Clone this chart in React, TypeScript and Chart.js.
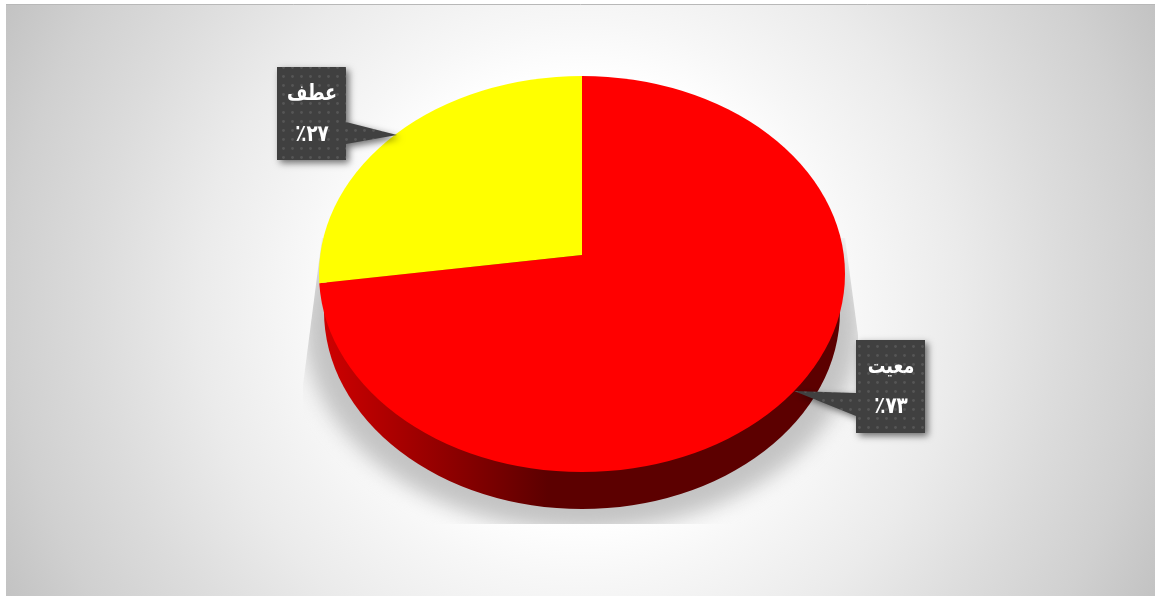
import React, { useEffect, useRef } from "react";
import { Chart, registerables } from "chart.js";

Chart.register(...registerables);

const categories = ["معیت", "عطف"];
const shares = [73, 27];
const sliceColors = ["#ff0000", "#ffff00"];

const persianDigits = "۰۱۲۳۴۵۶۷۸۹";
const toPersian = (n: number) =>
  String(n).replace(/\d/g, (d) => persianDigits[Number(d)]);

// Tilted disc geometry
const TOP = { cx: 582, cy: 274, rx: 263, ry: 198 };
const BASE = { cx: 582, cy: 311, rx: 258, ry: 198 };
const APEX = { x: 582, y: 255 };
const SLICE_RX = 295;
const SLICE_RY = 250;

// Callout boxes, one per category
const CALLOUTS = [
  { x: 856, y: 340, w: 69, h: 93, tip: [794, 391], base: [393, 416], tx: 891, ty1: 367, ty2: 407 },
  { x: 277, y: 67, w: 69, h: 93, tip: [397, 135], base: [122, 144], tx: 312, ty1: 94, ty2: 135 },
];

function dotPattern(ctx: CanvasRenderingContext2D) {
  const c = document.createElement("canvas");
  c.width = 9;
  c.height = 9;
  const p = c.getContext("2d")!;
  p.fillStyle = "#404040";
  p.fillRect(0, 0, 9, 9);
  p.fillStyle = "#565656";
  p.beginPath();
  p.arc(4.5, 4.5, 1.4, 0, Math.PI * 2);
  p.fill();
  return ctx.createPattern(c, "repeat")!;
}

function drawSquat(ctx: CanvasRenderingContext2D, text: string, x: number, y: number, font: string, squeeze: number) {
  ctx.save();
  ctx.translate(x, y);
  ctx.scale(squeeze, 1);
  ctx.font = font;
  ctx.fillText(text, 0, 0);
  ctx.restore();
}

const scenePlugin = {
  id: "scene",
  beforeDraw(chart: any) {
    const { ctx, width, height } = chart;
    ctx.save();
    ctx.fillStyle = "#ffffff";
    ctx.fillRect(0, 0, width, height);
    // Backdrop with a soft light in the middle
    ctx.beginPath();
    ctx.rect(6, 4, width - 6, height - 4);
    ctx.clip();
    const g = ctx.createRadialGradient(580, 300, 0, 580, 300, 650);
    g.addColorStop(0, "#ffffff");
    g.addColorStop(0.34, "#ffffff");
    g.addColorStop(0.43, "#f7f7f7");
    g.addColorStop(0.585, "#ebebeb");
    g.addColorStop(0.74, "#dcdcdc");
    g.addColorStop(0.877, "#d0d0d0");
    g.addColorStop(1, "#c2c2c2");
    ctx.fillStyle = g;
    ctx.fillRect(0, 0, width, height);
    ctx.restore();

    ctx.save();
    ctx.strokeStyle = "#b8b8b8";
    ctx.lineWidth = 1;
    ctx.beginPath();
    ctx.moveTo(6, 4.5);
    ctx.lineTo(width, 4.5);
    ctx.stroke();
    ctx.restore();
  },
  beforeDatasetsDraw(chart: any) {
    const { ctx } = chart;
    // Cast shadow, cropped to its own region
    ctx.save();
    ctx.beginPath();
    ctx.moveTo(322, 238);
    ctx.lineTo(303, 385);
    ctx.lineTo(303, 524);
    ctx.lineTo(858, 524);
    ctx.lineTo(858, 335);
    ctx.lineTo(845, 238);
    ctx.closePath();
    ctx.clip();
    ctx.filter = "blur(10px)";
    ctx.fillStyle = "#c4c4c4";
    ctx.beginPath();
    ctx.ellipse(582, 326, 278, 205, 0, 0, Math.PI * 2);
    ctx.fill();
    ctx.restore();

    // Side wall of the disc
    ctx.save();
    const wall = ctx.createLinearGradient(320, 0, 548, 0);
    wall.addColorStop(0, "#d00000");
    wall.addColorStop(1, "#5c0000");
    ctx.fillStyle = wall;
    ctx.beginPath();
    ctx.ellipse(BASE.cx, BASE.cy, BASE.rx, BASE.ry, 0, 0, Math.PI * 2);
    ctx.fill();
    ctx.restore();

    // Slices: circle mapped to the tilted face, cropped by its outline
    const arc = chart.getDatasetMeta(0).data[0];
    ctx.save();
    ctx.beginPath();
    ctx.ellipse(TOP.cx, TOP.cy, TOP.rx, TOP.ry, 0, 0, Math.PI * 2);
    ctx.clip();
    ctx.translate(APEX.x, APEX.y);
    ctx.scale(SLICE_RX / arc.outerRadius, SLICE_RY / arc.outerRadius);
    ctx.translate(-arc.x, -arc.y);
  },
  afterDatasetsDraw(chart: any) {
    chart.ctx.restore();
  },
  afterDraw(chart: any) {
    const { ctx } = chart;
    const fill = dotPattern(ctx);
    CALLOUTS.forEach((b, i) => {
      ctx.save();
      ctx.shadowColor = "rgba(0,0,0,0.55)";
      ctx.shadowBlur = 7;
      ctx.shadowOffsetX = 3;
      ctx.shadowOffsetY = 3;
      ctx.fillStyle = fill;
      ctx.beginPath();
      const edge = b.tip[0] > b.x ? b.x + b.w : b.x;
      ctx.rect(b.x, b.y, b.w, b.h);
      ctx.moveTo(edge, b.base[0]);
      ctx.lineTo(b.tip[0], b.tip[1]);
      ctx.lineTo(edge, b.base[1]);
      ctx.closePath();
      ctx.fill("nonzero");
      ctx.restore();

      ctx.save();
      ctx.fillStyle = "#ffffff";
      ctx.textAlign = "center";
      ctx.textBaseline = "middle";
      ctx.direction = "rtl";
      drawSquat(ctx, categories[i], b.tx, b.ty1, 'bold 22px "DejaVu Sans"', 0.8);
      drawSquat(ctx, "٪" + toPersian(shares[i]), b.tx, b.ty2, 'bold 23px "DejaVu Sans"', 0.8);
      ctx.restore();
    });
  },
};

export default function App() {
  const ref = useRef<HTMLCanvasElement>(null);
  useEffect(() => {
    const chart = new Chart(ref.current!, {
      type: "pie",
      data: {
        labels: categories,
        datasets: [
          {
            data: shares,
            backgroundColor: sliceColors,
            borderWidth: 0,
            clip: false,
          } as any,
        ],
      },
      options: {
        animation: false,
        responsive: false,
        devicePixelRatio: 1,
        events: [],
        plugins: { legend: { display: false }, tooltip: { enabled: false } },
      },
      plugins: [scenePlugin],
    });
    return () => chart.destroy();
  }, []);
  return (
    <div style={{ position: "absolute", left: 0, top: 0 }}>
      <canvas ref={ref} width={1155} height={596} style={{ display: "block" }} />
    </div>
  );
}
